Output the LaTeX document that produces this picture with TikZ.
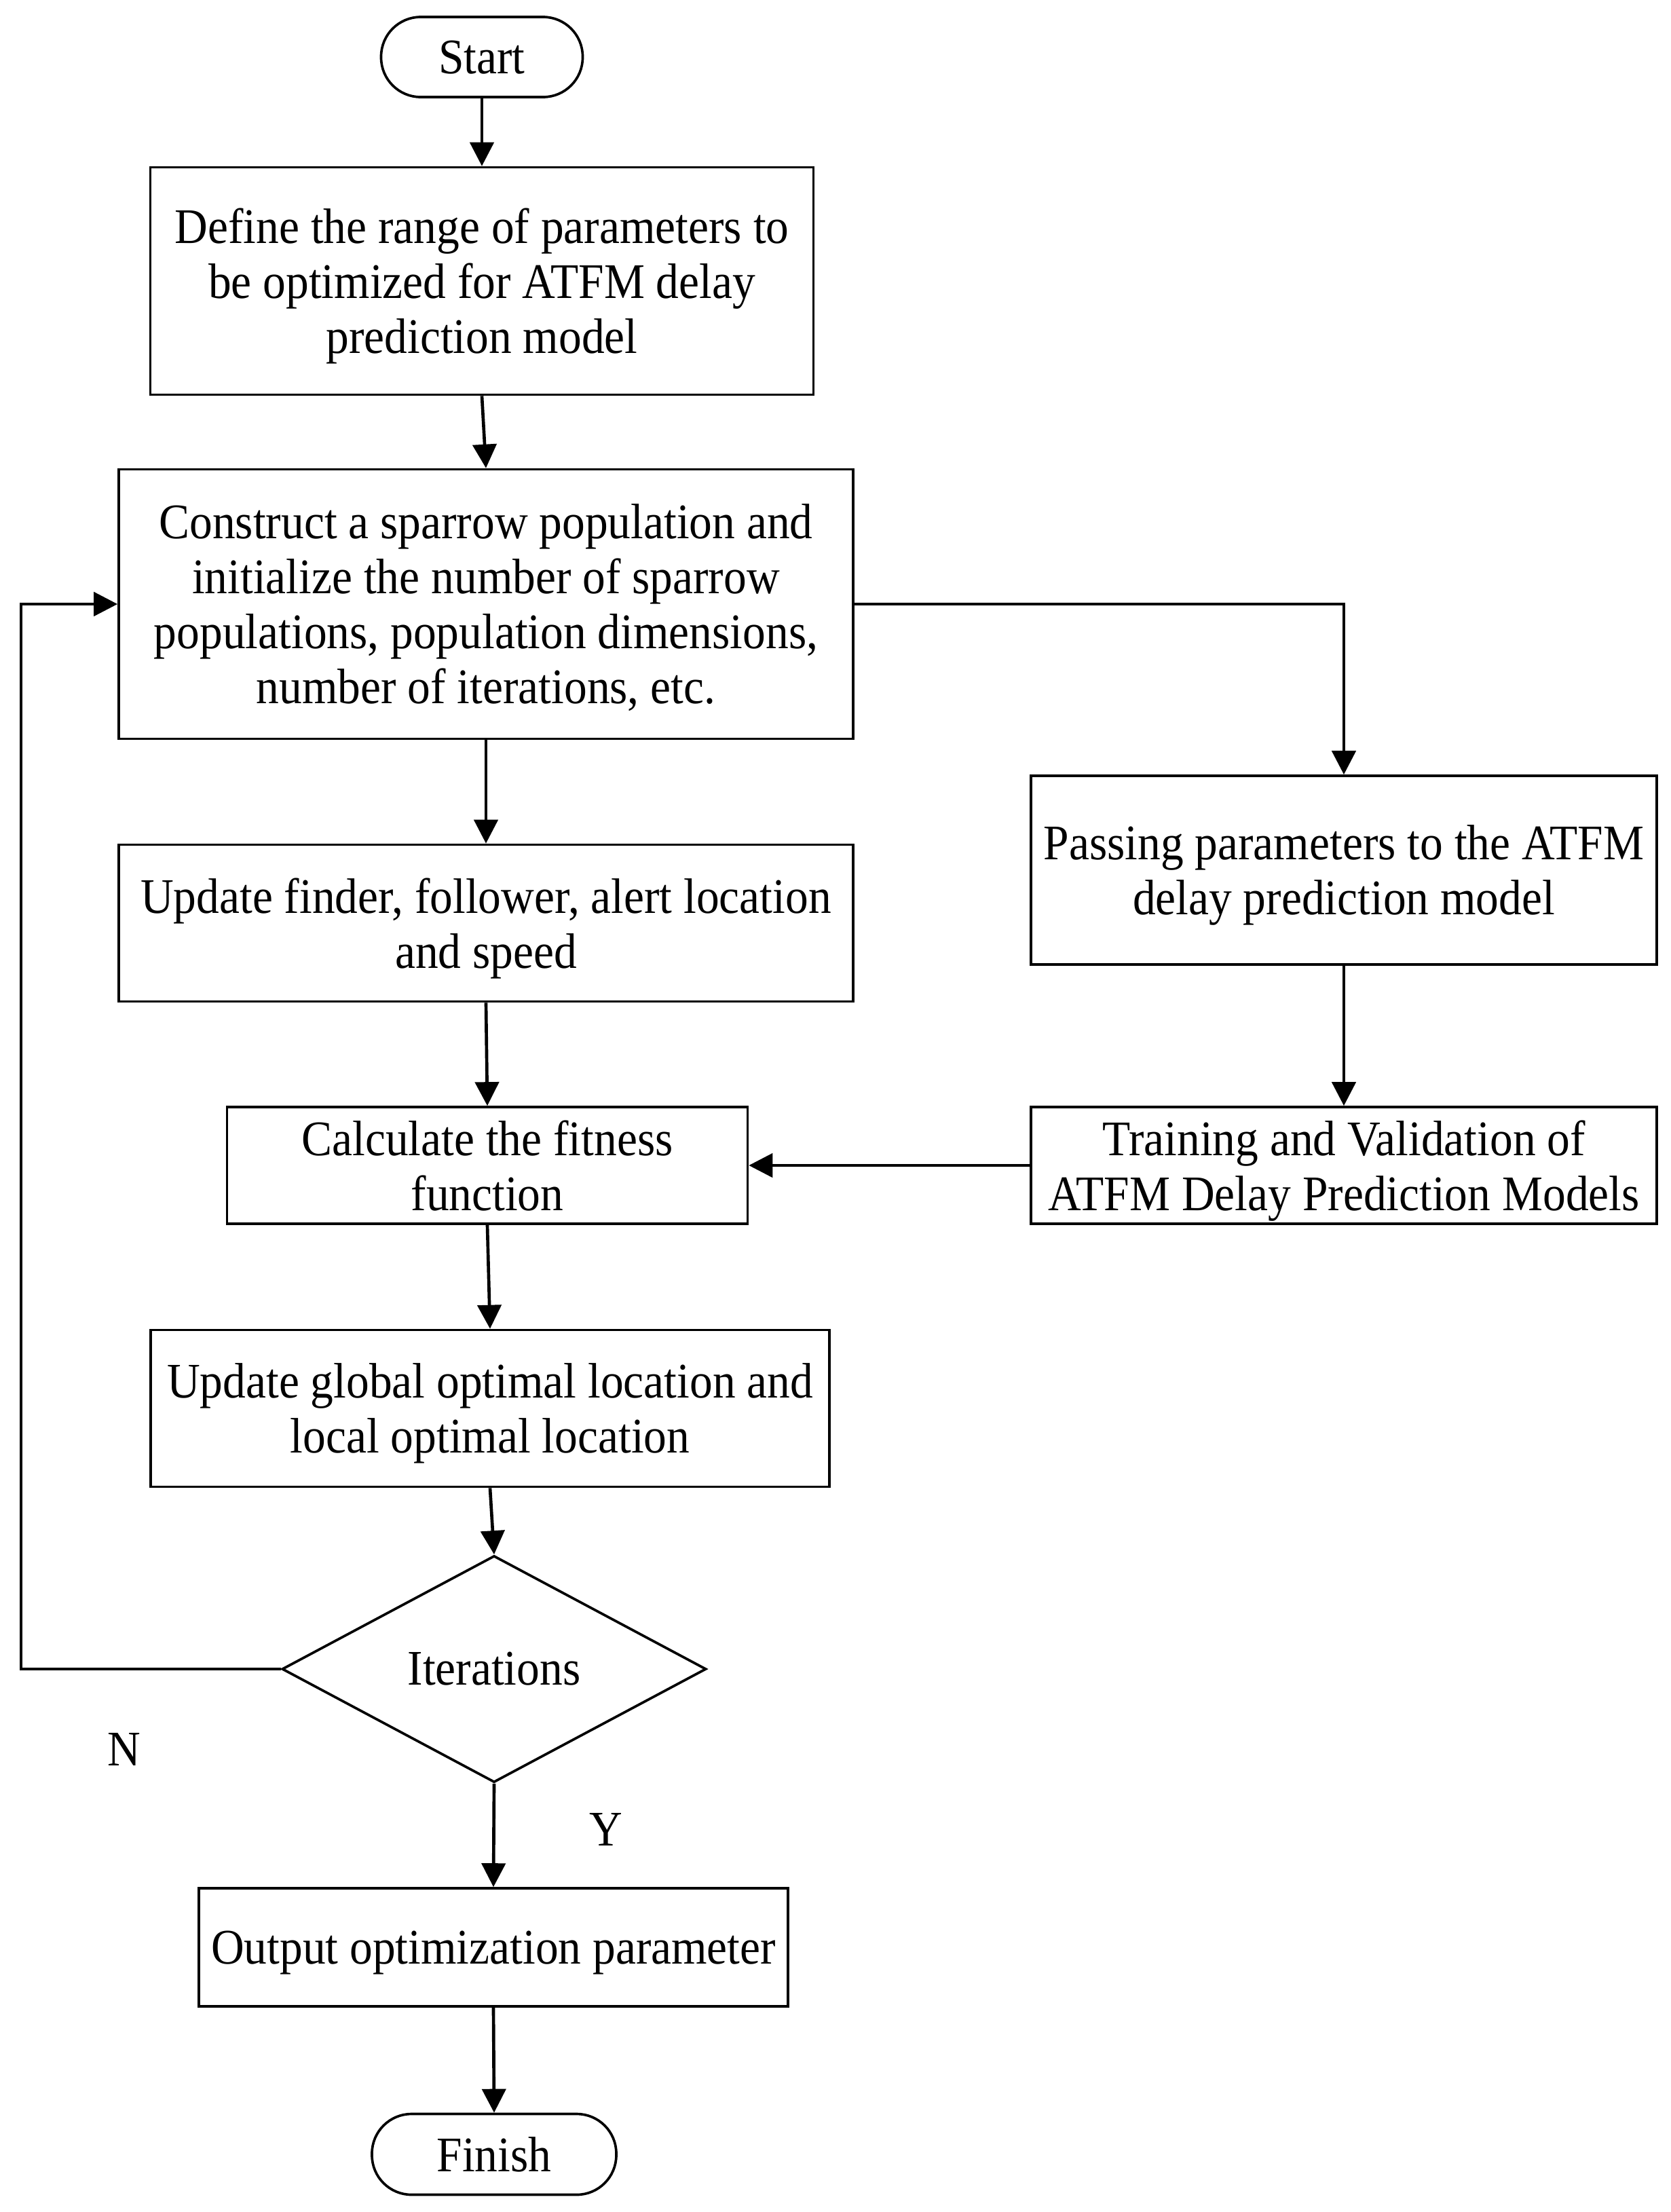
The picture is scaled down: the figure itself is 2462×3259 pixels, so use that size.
\documentclass[tikz,border=0pt]{standalone}
\usepackage{fontspec}
\setmainfont[FakeStretch=0.92]{Liberation Serif}
\usetikzlibrary{arrows.meta,shapes.geometric}
\begin{document}
\begin{tikzpicture}[x=0.3pt,y=-0.3pt,
  txt/.style={font=\fontsize{22}{24.3}\selectfont},
  box/.style={draw,line width=1.1pt,align=center,inner sep=0pt,text depth=0pt,txt},
  term/.style={box,rounded corners=17.5pt},
  dec/.style={draw,line width=1.1pt,shape=diamond,inner sep=0pt,txt},
  conn/.style={line width=1.4pt,-{Triangle[length=10.5pt,width=10.5pt]}}
]
\useasboundingbox (0,0) rectangle (2462,3259);
\node[term,minimum width=89.1pt,minimum height=35.4pt] (start) at (710,84) {Start};
\node[box,minimum width=293.1pt,minimum height=100.5pt] (b1) at (710,414)
  {Define the range of parameters to\\be optimized for ATFM delay\\prediction model};
\node[box,minimum width=324.6pt,minimum height=119.1pt] (b2) at (716,890)
  {Construct a sparrow population and\\initialize the number of sparrow\\populations, population dimensions,\\number of iterations, etc.};
\node[box,minimum width=324.6pt,minimum height=69.3pt] (b3) at (716,1360)
  {Update finder, follower, alert location\\and speed};
\node[box,minimum width=230.1pt,minimum height=51.6pt] (b4) at (718,1717)
  {Calculate the fitness\\function};
\node[box,minimum width=300pt,minimum height=69.3pt] (b5) at (722,2075)
  {Update global optimal location and\\local optimal location};
\node[dec,minimum width=187.5pt,minimum height=100.2pt] (dia) at (728,2459) {Iterations};
\node[box,minimum width=260.4pt,minimum height=52.2pt] (b6) at (727,2869)
  {Output optimization parameter};
\node[term,minimum width=108pt,minimum height=35.7pt] (finish) at (728,3174) {Finish};
\node[box,minimum width=276.6pt,minimum height=83.4pt] (r1) at (1980,1282)
  {Passing parameters to the ATFM\\delay prediction model};
\node[box,minimum width=276.6pt,minimum height=51.6pt] (r2) at (1980,1717)
  {Training and Validation of\\ATFM Delay Prediction Models};
\node[txt] (nlab) at (183,2577) {N};
\node[txt] (ylab) at (893,2695) {Y};
\coordinate (lc) at (31,2459);

\draw[conn] (start.south) -- (b1.north);
\draw[conn] (b1.south) -- (b2.north);
\draw[conn] (b2.south) -- (b3.north);
\draw[conn] (b3.south) -- (b4.north);
\draw[conn] (b4.south) -- (b5.north);
\draw[conn] (b5.south) -- (dia.north);
\draw[conn] (dia.south) -- (b6.north);
\draw[conn] (b6.south) -- (finish.north);
\draw[conn] (dia.west) -- (lc) |- (b2.west);
\draw[conn] (b2.east) -| (r1.north);
\draw[conn] (r1.south) -- (r2.north);
\draw[conn] (r2.west) -- (b4.east);
\end{tikzpicture}
\end{document}
